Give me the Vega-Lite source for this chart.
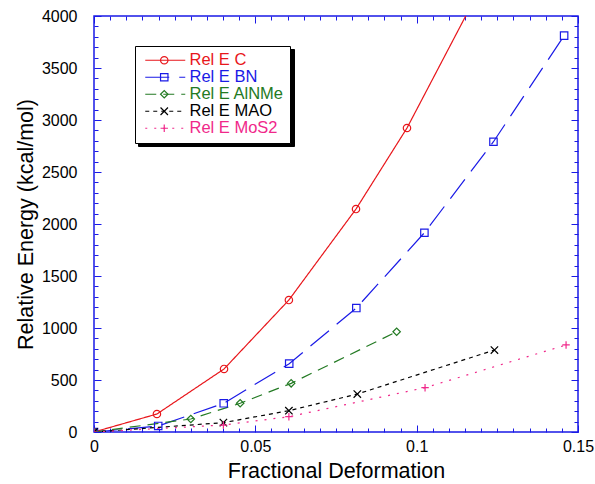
{
  "$schema": "https://vega.github.io/schema/vega-lite/v6.json",
  "width": 484,
  "height": 416,
  "autosize": {"type": "none"},
  "padding": {"left": 94, "top": 16, "right": 17, "bottom": 52},
  "background": "white",
  "config": {
    "font": "Liberation Sans",
    "view": {"stroke": "#1a1ae6", "strokeWidth": 1.5},
    "axis": {
      "domain": false, "grid": false,
      "tickColor": "#1a1ae6", "tickWidth": 1,
      "labelFont": "Liberation Sans", "labelFontSize": 16, "labelColor": "black",
      "titleFont": "Liberation Sans", "titleFontSize": 21.5, "titleFontWeight": "normal", "titleColor": "black",
      "labelOverlap": false, "labelFlush": false
    }
  },
  "data": {
    "values": [
      {"series": "Rel E C", "x": 0, "y": 0},
      {"series": "Rel E C", "x": 0.0195, "y": 173},
      {"series": "Rel E C", "x": 0.0403, "y": 606},
      {"series": "Rel E C", "x": 0.0604, "y": 1269},
      {"series": "Rel E C", "x": 0.0812, "y": 2144},
      {"series": "Rel E C", "x": 0.097, "y": 2923},
      {"series": "Rel E C", "x": 0.12, "y": 4284},
      {"series": "Rel E BN", "x": 0, "y": 0},
      {"series": "Rel E BN", "x": 0.0199, "y": 58},
      {"series": "Rel E BN", "x": 0.0402, "y": 276},
      {"series": "Rel E BN", "x": 0.0605, "y": 657},
      {"series": "Rel E BN", "x": 0.0813, "y": 1192},
      {"series": "Rel E BN", "x": 0.1024, "y": 1916},
      {"series": "Rel E BN", "x": 0.1238, "y": 2791},
      {"series": "Rel E BN", "x": 0.1457, "y": 3811},
      {"series": "Rel E AlNMe", "x": 0, "y": 0},
      {"series": "Rel E AlNMe", "x": 0.030, "y": 125},
      {"series": "Rel E AlNMe", "x": 0.0453, "y": 276},
      {"series": "Rel E AlNMe", "x": 0.0611, "y": 468},
      {"series": "Rel E AlNMe", "x": 0.0938, "y": 964},
      {"series": "Rel E MAO", "x": 0, "y": 0},
      {"series": "Rel E MAO", "x": 0.0401, "y": 90},
      {"series": "Rel E MAO", "x": 0.0604, "y": 205},
      {"series": "Rel E MAO", "x": 0.0816, "y": 365},
      {"series": "Rel E MAO", "x": 0.1241, "y": 788},
      {"series": "Rel E MoS2", "x": 0, "y": 0},
      {"series": "Rel E MoS2", "x": 0.0401, "y": 67},
      {"series": "Rel E MoS2", "x": 0.0604, "y": 147},
      {"series": "Rel E MoS2", "x": 0.1026, "y": 426},
      {"series": "Rel E MoS2", "x": 0.1463, "y": 837}
    ]
  },
  "layer": [
    {
      "mark": {"type": "line", "strokeWidth": 1.2, "clip": true},
      "encoding": {
        "x": {
          "field": "x", "type": "quantitative",
          "scale": {"domain": [0, 0.15], "nice": false, "zero": false},
          "axis": {
            "orient": "bottom",
            "title": "Fractional Deformation",
            "values": [0,0.005,0.01,0.015,0.02,0.025,0.03,0.035,0.04,0.045,0.05,0.055,0.06,0.065,0.07,0.075,0.08,0.085,0.09,0.095,0.1,0.105,0.11,0.115,0.12,0.125,0.13,0.135,0.14,0.145,0.15],
            "labelExpr": "round(datum.value*1000) % 50 === 0 ? format(datum.value, '~g') : ''",
            "tickSize": {"condition": {"test": "round(datum.value*1000) % 50 === 0", "value": -7}, "value": -4},
            "labelPadding": 13,
            "titlePadding": 3
          }
        },
        "y": {
          "field": "y", "type": "quantitative",
          "scale": {"domain": [0, 4000], "nice": false},
          "axis": {
            "orient": "left",
            "title": "Relative Energy (kcal/mol)",
            "values": [0,100,200,300,400,500,600,700,800,900,1000,1100,1200,1300,1400,1500,1600,1700,1800,1900,2000,2100,2200,2300,2400,2500,2600,2700,2800,2900,3000,3100,3200,3300,3400,3500,3600,3700,3800,3900,4000],
            "labelExpr": "datum.value % 500 === 0 ? format(datum.value, 'd') : ''",
            "tickSize": {"condition": {"test": "datum.value % 500 === 0", "value": -7}, "value": -4},
            "labelPadding": 24,
            "titlePadding": 4
          }
        },
        "color": {
          "field": "series", "type": "nominal",
          "sort": "descending",
          "scale": {"range": ["#f0288a", "#000000", "#e8161b", "#1a1ae6", "#237a23"]},
          "legend": {
            "orient": "none", "legendX": 44, "legendY": 33, "title": null,
            "strokeColor": "black", "fillColor": "black", "padding": 6, "rowPadding": -3.7,
            "labelFont": "Liberation Sans", "labelFontSize": 16.5, "labelOffset": 127, "labelOpacity": 0,
            "labelExpr": "' '",
            "symbolType": "M-1,0L9,0", "symbolSize": 64, "symbolStrokeWidth": 1.2, "symbolOpacity": 0
          }
        },
        "opacity": {
          "field": "series", "type": "nominal",
          "scale": {
            "domain": ["Rel E C", "Rel E BN", "Rel E AlNMe", "Rel E MAO", "Rel E MoS2"],
            "range": [1, 1, 1, 1, 1]
          },
          "legend": {
            "orient": "none", "legendX": 41, "legendY": 30, "title": null,
            "strokeColor": "black", "fillColor": "white", "padding": 6, "rowPadding": -3.7,
            "labelFont": "Liberation Sans", "labelFontSize": 16.5, "labelOffset": 32, "labelLimit": 200,
            "symbolType": "M-1,0L9,0", "symbolSize": 64, "symbolStrokeWidth": 1.2,
            "symbolStrokeColor": {"expr": "datum.value === 'Rel E C' ? '#e8161b' : datum.value === 'Rel E BN' ? '#1a1ae6' : datum.value === 'Rel E AlNMe' ? '#237a23' : datum.value === 'Rel E MAO' ? '#000000' : '#f0288a'"},
            "labelColor": {"expr": "datum.value === 'Rel E C' ? '#e8161b' : datum.value === 'Rel E BN' ? '#1a1ae6' : datum.value === 'Rel E AlNMe' ? '#237a23' : datum.value === 'Rel E MAO' ? '#000000' : '#f0288a'"}
          }
        },
        "strokeDash": {
          "field": "series", "type": "nominal",
          "scale": {
            "domain": ["Rel E C", "Rel E BN", "Rel E AlNMe", "Rel E MAO", "Rel E MoS2"],
            "range": [[1, 0], [24, 10], [11, 7], [4, 4], [2, 7]]
          },
          "legend": {
            "orient": "none", "legendX": 41, "legendY": 30, "title": null,
            "strokeColor": "black", "fillColor": "white", "padding": 6, "rowPadding": -3.7,
            "labelFont": "Liberation Sans", "labelFontSize": 16.5, "labelOffset": 32, "labelLimit": 200,
            "symbolType": "M-1,0L9,0", "symbolSize": 64, "symbolStrokeWidth": 1.2,
            "symbolStrokeColor": {"expr": "datum.value === 'Rel E C' ? '#e8161b' : datum.value === 'Rel E BN' ? '#1a1ae6' : datum.value === 'Rel E AlNMe' ? '#237a23' : datum.value === 'Rel E MAO' ? '#000000' : '#f0288a'"},
            "labelColor": {"expr": "datum.value === 'Rel E C' ? '#e8161b' : datum.value === 'Rel E BN' ? '#1a1ae6' : datum.value === 'Rel E AlNMe' ? '#237a23' : datum.value === 'Rel E MAO' ? '#000000' : '#f0288a'"}
          }
        }
      }
    },
    {
      "mark": {"type": "point", "filled": false, "size": 55, "strokeWidth": 1.2, "opacity": 1, "clip": true},
      "encoding": {
        "x": {
          "field": "x", "type": "quantitative",
          "axis": {
            "orient": "top", "title": null, "labels": false,
            "values": [0,0.005,0.01,0.015,0.02,0.025,0.03,0.035,0.04,0.045,0.05,0.055,0.06,0.065,0.07,0.075,0.08,0.085,0.09,0.095,0.1,0.105,0.11,0.115,0.12,0.125,0.13,0.135,0.14,0.145,0.15],
            "tickSize": {"condition": {"test": "round(datum.value*1000) % 50 === 0", "value": -7}, "value": -4}
          }
        },
        "y": {
          "field": "y", "type": "quantitative",
          "axis": {
            "orient": "right", "title": null, "labels": false,
            "values": [0,100,200,300,400,500,600,700,800,900,1000,1100,1200,1300,1400,1500,1600,1700,1800,1900,2000,2100,2200,2300,2400,2500,2600,2700,2800,2900,3000,3100,3200,3300,3400,3500,3600,3700,3800,3900,4000],
            "tickSize": {"condition": {"test": "datum.value % 500 === 0", "value": -7}, "value": -4}
          }
        },
        "color": {"field": "series", "type": "nominal", "sort": "descending", "legend": null},
        "shape": {
          "field": "series", "type": "nominal",
          "sort": ["Rel E C", "Rel E BN", "Rel E AlNMe", "Rel E MAO", "Rel E MoS2"],
          "scale": {"range": ["circle", "square", "diamond", "M-1,-1L1,1M-1,1L1,-1", "M-1,0L1,0M0,-1L0,1"]},
          "legend": {
            "orient": "none", "legendX": 56, "legendY": 30, "title": null,
            "padding": 6, "rowPadding": -3.7,
            "labelFont": "Liberation Sans", "labelFontSize": 16.5, "labelOffset": 5, "labelOpacity": 0,
            "labelExpr": "' '",
            "symbolSize": 55, "symbolStrokeWidth": 1.2, "symbolFillColor": "white",
            "symbolStrokeColor": {"expr": "datum.value === 'Rel E C' ? '#e8161b' : datum.value === 'Rel E BN' ? '#1a1ae6' : datum.value === 'Rel E AlNMe' ? '#237a23' : datum.value === 'Rel E MAO' ? '#000000' : '#f0288a'"}
          }
        }
      }
    }
  ],
  "resolve": {"axis": {"x": "independent", "y": "independent"}}
}
